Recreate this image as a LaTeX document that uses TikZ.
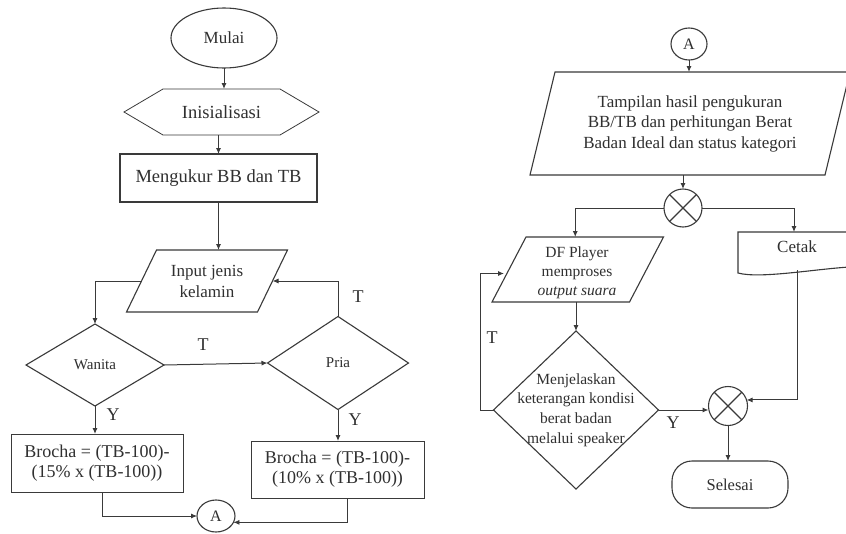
\documentclass[tikz,border=0pt]{standalone}
\usepackage{fontspec}
\setmainfont{Liberation Serif}
\usetikzlibrary{shapes.geometric,shapes.misc,arrows.meta}
\definecolor{ln}{HTML}{3A3A3A}
\definecolor{tx}{HTML}{303030}
\newcommand\fsz[2]{\fontsize{#1pt}{#2pt}\selectfont}
\begin{document}
\begin{tikzpicture}[x=1pt,y=-1pt,
  every node/.style={inner sep=0pt, outer sep=0pt, text=tx},
  ghost/.style={rectangle, draw=none},
  boxed/.style={draw=ln, line width=1.1pt},
  outline/.style={draw=ln, line width=1.1pt, line join=miter},
  arr/.style={draw=ln, line width=1pt, -{Latex[length=6pt,width=5pt]}},
  lbl/.style={font=\fsz{18}{20}}]
\useasboundingbox (0,0) rectangle (846,533);
\clip (0,0) rectangle (846,533);
\fill[white] (0,0) rectangle (846,533);

% ---------------- left part ----------------
\node[boxed, ellipse, minimum width=106pt, minimum height=60pt, font=\fsz{17}{20}] (mulai) at (224,38) {Mulai};

\node[ghost, minimum width=195pt, minimum height=46pt, font=\fsz{18.5}{22}] (ini) at (221.5,112) {Inisialisasi};
\draw[outline, line width=0.8pt] (ini.west) -- ([xshift=39pt]ini.north west) -- ([xshift=-39pt]ini.north east) -- (ini.east) -- ([xshift=-39pt]ini.south east) -- ([xshift=39pt]ini.south west) -- cycle;

\node[boxed, minimum width=197pt, minimum height=48pt, font=\fsz{18.5}{22}] (ukur) at (218.5,178) {Mengukur BB dan TB};

\node[ghost, minimum width=131pt, minimum height=62pt, align=center, font=\fsz{17}{21}] (inp) at (207,281) {Input jenis\\kelamin};
\draw[outline] ([xshift=15pt]inp.north west) -- ([xshift=15pt]inp.north east) -- ([xshift=-15pt]inp.south east) -- ([xshift=-15pt]inp.south west) -- cycle;

\node[ghost, minimum width=138pt, minimum height=82pt, font=\fsz{15}{18}] (wan) at (95,365) {Wanita};
\draw[outline] (wan.north) -- (wan.east) -- (wan.south) -- (wan.west) -- cycle;

\node[ghost, minimum width=141pt, minimum height=93pt, font=\fsz{15}{18}] (pria) at (338,363) {Pria};
\draw[outline] (pria.north) -- (pria.east) -- (pria.south) -- (pria.west) -- cycle;

\node[boxed, line width=0.8pt, minimum width=172pt, minimum height=58pt, align=center, font=\fsz{18}{20}] (b1) at (97,463) {Brocha = (TB-100)-\\(15\% x (TB-100))};
\node[boxed, line width=0.8pt, minimum width=173pt, minimum height=57pt, align=center, font=\fsz{18}{20}] (b2) at (337.5,469.5) {Brocha = (TB-100)-\\(10\% x (TB-100))};

\node[boxed, ellipse, minimum width=38pt, minimum height=32pt, font=\fsz{16}{18}] (a1) at (216,516) {A};

\draw[arr] (mulai.south) -- (mulai.south |- ini.north);
\draw[arr] (ini.south -| ukur.north) -- (ukur.north);
\draw[arr] (ukur.south) -- (ukur.south |- inp.north);
\draw[arr, line width=0.8pt] (inp.west) -| (wan.north);
\draw[arr] (wan.east) -- (pria.west);
\draw[arr] (pria.north) |- (inp.east);
\draw[arr] (wan.south) -- (wan.south |- b1.north);
\draw[arr] (pria.south) -- (pria.south |- b2.north);
\draw[arr, line width=0.8pt] ([xshift=5pt]b1.south) |- (a1.west);
\draw[arr, line width=0.8pt] ([xshift=10pt]b2.south) |- (a1.-20);

\node[lbl] (t1) at (203,345) {T};
\node[lbl] (t2) at (358,297) {T};
\node[lbl] (y1) at (113,415) {Y};
\node[lbl] (y2) at (355,420) {Y};

% ---------------- right part ----------------
\node[boxed, ellipse, minimum width=36pt, minimum height=32pt, font=\fsz{16}{18}] (a2) at (689,44) {A};

\node[ghost, minimum width=295pt, minimum height=103pt, align=center, font=\fsz{17}{20.5}] (tamp) at (690,123.5) {Tampilan hasil pengukuran\\BB/TB dan perhitungan Berat\\Badan Ideal dan status kategori};
\draw[outline] ([xshift=12.5pt]tamp.north west) -- ([xshift=12.5pt]tamp.north east) -- ([xshift=-12.5pt]tamp.south east) -- ([xshift=-12.5pt]tamp.south west) -- cycle;

\node[boxed, circle, minimum size=38pt] (x1) at (683,208) {};
\draw[outline] (x1.north west) -- (x1.south east) (x1.north east) -- (x1.south west);

\node[ghost, minimum width=137.5pt, minimum height=65pt] (df) at (577.75,269.5) {};
\draw[outline] ([xshift=17pt]df.north west) -- ([xshift=17pt]df.north east) -- ([xshift=-17pt]df.south east) -- ([xshift=-17pt]df.south west) -- cycle;
\node[align=center, font=\fsz{15.5}{19}] (dftx) at (577,273) {DF Player\\memproses\\\textit{output suara}};

\node[ghost, minimum width=112pt, minimum height=41pt] (cet) at (794,252.5) {};
\draw[outline] (850,232) -- (cet.north west) -- (cet.south west) .. controls +(22,6) and +(-35,2) .. (850,267);
\node[font=\fsz{17}{20}] (cettx) at (797,247) {Cetak};

\node[ghost, minimum width=165pt, minimum height=158pt, align=center, font=\fsz{15.5}{19.7}] (mj) at (576,410) {Menjelaskan\\keterangan kondisi\\berat badan\\melalui speaker};
\draw[outline] (mj.north) -- (mj.east) -- (mj.south) -- (mj.west) -- cycle;

\node[boxed, circle, minimum size=39pt] (x2) at (728,406) {};
\draw[outline] (x2.north west) -- (x2.south east) (x2.north east) -- (x2.south west);

\node[boxed, rounded corners=20pt, minimum width=116pt, minimum height=47pt, font=\fsz{16.5}{20}] (sel) at (730,484.5) {Selesai};

\draw[arr] (a2.south) -- (a2.south |- tamp.north);
\draw[arr] (tamp.south -| x1.north) -- (x1.north);
\draw[arr] (x1.west) -| ([xshift=-2.5pt]df.north);
\draw[arr] (x1.east) -| (cet.north);
\draw[arr] (df.south -| mj.north) -- (mj.north);
\draw[arr] (mj.west) -- ++(-13,0) |- ([xshift=-5pt,yshift=-4pt]df.west);
\draw[arr] (mj.east) -- (mj.east -| x2.west);
\draw[arr] ([xshift=3pt,yshift=3pt]cet.south) |- (x2.18);
\draw[arr] (x2.south) -- (x2.south |- sel.north);

\node[lbl] (t3) at (492,338) {T};
\node[lbl] (y3) at (673,423) {Y};
\end{tikzpicture}
\end{document}
